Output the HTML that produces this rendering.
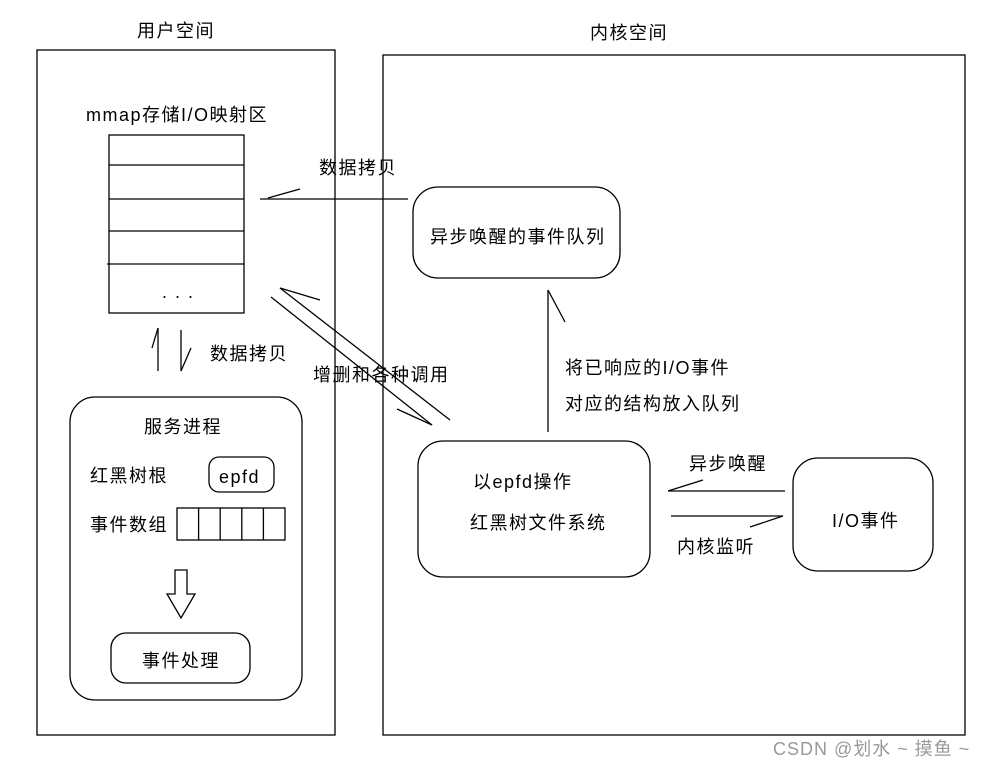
<!DOCTYPE html>
<html><head><meta charset="utf-8"><style>
html,body{margin:0;padding:0;background:#fff;}
svg{display:block;}
text{font-family:"Liberation Sans","Noto Sans CJK SC","WenQuanYi Zen Hei",sans-serif;font-size:18px;letter-spacing:1.5px;fill:#000;}
</style></head><body>
<svg width="1003" height="767" viewBox="0 0 1003 767" xmlns="http://www.w3.org/2000/svg">
<g fill="none" stroke="#000" stroke-width="1.3">
<rect x="37" y="50" width="298" height="685"/>
<rect x="383" y="55" width="582" height="680"/>
<rect x="109" y="135" width="135" height="178"/>
<line x1="109" y1="165" x2="244" y2="165"/>
<line x1="109" y1="199" x2="244" y2="199"/>
<line x1="109" y1="231" x2="244" y2="231"/>
<line x1="107" y1="264" x2="244" y2="264"/>
<line x1="260" y1="199" x2="408" y2="199"/>
<line x1="268" y1="198" x2="300" y2="189"/>
<rect x="413" y="187" width="207" height="91" rx="25"/>
<line x1="280" y1="288" x2="450" y2="420"/>
<line x1="280" y1="288" x2="320" y2="300"/>
<line x1="271" y1="297" x2="432" y2="425"/>
<line x1="397" y1="409" x2="432" y2="425"/>
<line x1="548" y1="432" x2="548" y2="290"/>
<line x1="548" y1="290" x2="565" y2="322"/>
<rect x="418" y="441" width="232" height="136" rx="25"/>
<rect x="793" y="458" width="140" height="113" rx="25"/>
<line x1="668" y1="491" x2="785" y2="491"/>
<line x1="668" y1="491" x2="703" y2="480"/>
<line x1="671" y1="516" x2="783" y2="516"/>
<line x1="783" y1="516" x2="750" y2="527"/>
<line x1="158" y1="371" x2="158" y2="328"/>
<line x1="158" y1="328" x2="152" y2="348"/>
<line x1="181" y1="330" x2="181" y2="371"/>
<line x1="181" y1="371" x2="191" y2="348"/>
<rect x="70" y="397" width="232" height="303" rx="25"/>
<rect x="209" y="457" width="65" height="35" rx="10"/>
<rect x="177" y="508" width="108" height="32"/>
<line x1="198.6" y1="508" x2="198.6" y2="540"/>
<line x1="220.2" y1="508" x2="220.2" y2="540"/>
<line x1="241.8" y1="508" x2="241.8" y2="540"/>
<line x1="263.4" y1="508" x2="263.4" y2="540"/>
<path d="M175 570 H187 V594 H195 L181 618 L167 594 H175 Z"/>
<rect x="111" y="633" width="139" height="50" rx="15"/>
</g>
<text x="137" y="37">用户空间</text>
<text x="590" y="39">内核空间</text>
<text x="86" y="121">mmap存储I/O映射区</text>
<text x="162" y="298" font-size="15">. . .</text>
<text x="319" y="174">数据拷贝</text>
<text x="430" y="243">异步唤醒的事件队列</text>
<text x="210" y="360">数据拷贝</text>
<text x="313" y="381">增删和各种调用</text>
<text x="565" y="374">将已响应的I/O事件</text>
<text x="565" y="410">对应的结构放入队列</text>
<text x="473" y="488">以epfd操作</text>
<text x="470" y="529">红黑树文件系统</text>
<text x="689" y="470">异步唤醒</text>
<text x="677" y="553">内核监听</text>
<text x="832" y="527">I/O事件</text>
<text x="144" y="433">服务进程</text>
<text x="90" y="482">红黑树根</text>
<text x="219" y="483">epfd</text>
<text x="90" y="531">事件数组</text>
<text x="142" y="667">事件处理</text>
<text x="773" y="755" font-size="16" style="fill:#999;letter-spacing:1px">CSDN @划水 ~ 摸鱼 ~</text>
</svg>
</body></html>
